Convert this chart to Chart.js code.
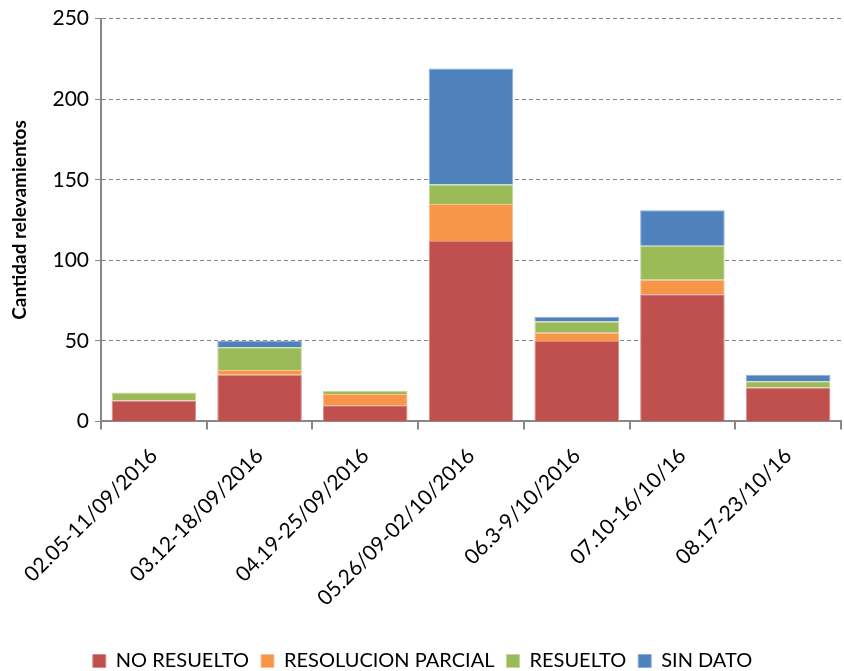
<!DOCTYPE html>
<html>
<head>
<meta charset="utf-8">
<script src="https://cdn.jsdelivr.net/npm/chart.js@4"></script>
<style>
  html, body { margin:0; padding:0; background:#fff; }
  #wrap { width:844px; height:671px; position:relative; }
</style>
</head>
<body>
<div id="wrap"><canvas id="chart"></canvas></div>
<script>
const categories = ["02.05-11/09/2016","03.12-18/09/2016","04.19-25/09/2016","05.26/09-02/10/2016","06.3-9/10/2016","07.10-16/10/16","08.17-23/10/16"];
const noResuelto = [13, 29, 10, 112, 50, 79, 21];
const resolucionParcial = [0, 3, 7, 23, 5, 9, 0];
const resuelto = [5, 14, 2, 12, 7, 21, 4];
const sinDato = [0, 4, 0, 72, 3, 22, 4];
const yTicks = [0, 50, 100, 150, 200, 250];

const font = "Lato, 'Open Sans', sans-serif";
const ds = (label, data, bg, border) => ({ label, data, backgroundColor:bg, borderColor:border, borderWidth:1, barPercentage:0.8, categoryPercentage:1 });

new Chart(document.getElementById("chart").getContext("2d"), {
  type: "bar",
  data: {
    labels: categories,
    datasets: [
      ds("NO RESUELTO", noResuelto, "#C0504D", "#D98C8A"),
      ds("RESOLUCION PARCIAL", resolucionParcial, "#F79646", "#FAC09A"),
      ds("RESUELTO", resuelto, "#9BBB59", "#C3D79B"),
      ds("SIN DATO", sinDato, "#4F81BD", "#8EAEDA")
    ]
  },
  options: {
    responsive:true, maintainAspectRatio:false, animation:false,
    layout: { padding:{ top:8, right:3, left:4, bottom:-10 } },
    plugins: {
      legend: {
        position:"bottom",
        labels: { boxWidth:13, boxHeight:13, color:"#000", font:{ family:font, size:20 }, padding:12 }
      },
      tooltip: { enabled:false }
    },
    scales: {
      x: {
        stacked:true,
        afterFit: ax => { ax.height += 14; },
        grid: { drawOnChartArea:false, drawTicks:true, tickLength:8, color:"#888", lineWidth:2 },
        border: { color:"#888", width:2 },
        ticks: { color:"#000", font:{ family:font, size:21 }, maxRotation:45, minRotation:45, padding:14 }
      },
      y: {
        stacked:true, min:0, max:250,
        afterBuildTicks: ax => { ax.ticks = yTicks.map(v => ({ value:v })); },
        afterFit: ax => { ax.width = 97; },
        grid: { color:"#888", lineWidth:1, tickLength:6, tickColor:"#888" },
        border: { color:"#888", width:2, dash:[4,3] },
        ticks: { color:"#000", font:{ family:font, size:21 }, padding:6 },
        title: { display:true, text:"Cantidad relevamientos", color:"#000", font:{ family:font, size:19, weight:"bold" }, padding:{ bottom:0 } }
      }
    }
  }
});
</script>
</body>
</html>
